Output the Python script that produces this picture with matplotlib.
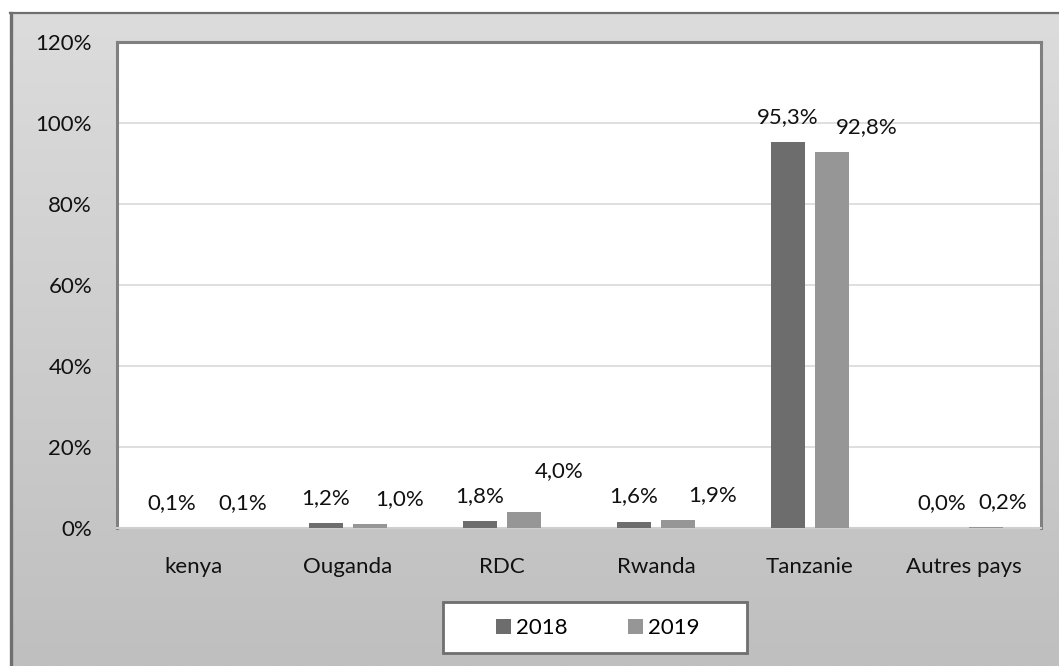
import numpy as np
import matplotlib
matplotlib.use("Agg")
import matplotlib.pyplot as plt
from matplotlib.patches import Rectangle

plt.rcParams["font.family"] = ["Lato", "DejaVu Sans"]

# ---- data ----
categories = ["kenya", "Ouganda", "RDC", "Rwanda", "Tanzanie", "Autres pays"]
series_names = ["2018", "2019"]
vals_2018 = [0.1, 1.2, 1.8, 1.6, 95.3, 0.0]
vals_2019 = [0.1, 1.0, 4.0, 1.9, 92.8, 0.2]
y_ticks = [0, 20, 40, 60, 80, 100, 120]

# ---- style ----
C18, C19 = "#6d6d6d", "#969696"
FS = 16
W, H = 1059, 666

# label nudges (points) to mimic Excel placement
dx19 = [19, 21, 25, 25, 25, 12]
dy19 = [18, 18, 29, 18, 18, 18]

fig = plt.figure(figsize=(W / 100, H / 100), dpi=100)
fig.patch.set_facecolor("white")

# gradient background inside the outer border
bg = fig.add_axes([10 / W, 0, 1 - 10 / W, 1 - 13 / H], zorder=0)
grad = np.linspace(0, 1, 256).reshape(-1, 1)
bg.imshow(grad, aspect="auto", cmap=matplotlib.colors.LinearSegmentedColormap.from_list(
    "g", ["#dcdcdc", "#bfbfbf"]), extent=[0, 1, 0, 1], origin="upper")
bg.set_axis_off()
fig.add_artist(plt.Line2D([11 / W, 11 / W], [0, 1 - 12.5 / H], transform=fig.transFigure,
                          color="#6f6f6f", lw=2.4))
fig.add_artist(plt.Line2D([10 / W, 1], [1 - 13 / H, 1 - 13 / H], transform=fig.transFigure,
                          color="#6f6f6f", lw=1.6))

ax = fig.add_axes([117 / W, 1 - 528 / H, (1041 - 117) / W, (528 - 42) / H], zorder=2)
ax.set_facecolor("white")

x = np.arange(len(categories))
w = 0.22
off = 0.143
b1 = ax.bar(x - off, vals_2018, w, color=C18, label=series_names[0], zorder=3)
b2 = ax.bar(x + off, vals_2019, w, color=C19, label=series_names[1], zorder=3)

for i, (bar, v) in enumerate(zip(b1, vals_2018)):
    ax.annotate(f"{v:.1f}%".replace(".", ","), (bar.get_x() + bar.get_width() / 2, v),
                xytext=(0, 18), textcoords="offset points", ha="center", va="center",
                fontsize=FS, color="#111111", zorder=4)
for i, (bar, v) in enumerate(zip(b2, vals_2019)):
    ax.annotate(f"{v:.1f}%".replace(".", ","), (bar.get_x() + bar.get_width() / 2, v),
                xytext=(dx19[i], dy19[i]), textcoords="offset points", ha="center", va="center",
                fontsize=FS, color="#111111", zorder=4)

ax.set_xlim(-0.5, len(categories) - 0.5)
ax.set_ylim(0, 120)
ax.set_yticks(y_ticks)
ax.set_yticklabels([f"{t}%" for t in y_ticks])
ax.set_xticks(x)
ax.set_xticklabels(categories)
ax.tick_params(axis="both", length=0, labelsize=FS, colors="#111111")
ax.tick_params(axis="y", pad=18)
ax.tick_params(axis="x", pad=21)
ax.yaxis.grid(True, color="#d9d9d9", lw=1.2, zorder=0)
ax.set_axisbelow(True)
for s in ["left", "top", "right"]:
    ax.spines[s].set_color("#808080")
    ax.spines[s].set_linewidth(2.2)
ax.spines["bottom"].set_color("#d0d0d0")
ax.spines["bottom"].set_linewidth(1.5)

# legend box
fig.add_artist(Rectangle((443 / W, 1 - 653 / H), (747 - 443) / W, (653 - 602) / H,
                         transform=fig.transFigure, facecolor="white",
                         edgecolor="#6f6f6f", lw=2, zorder=5))
leg = fig.legend(loc="center", bbox_to_anchor=(598 / W, 1 - 628 / H), ncol=2,
                 frameon=False, fontsize=FS, handlelength=0.65, handleheight=0.65,
                 handletextpad=0.25, columnspacing=2.7)
leg.set_zorder(6)

fig.savefig("out.png", dpi=100)
